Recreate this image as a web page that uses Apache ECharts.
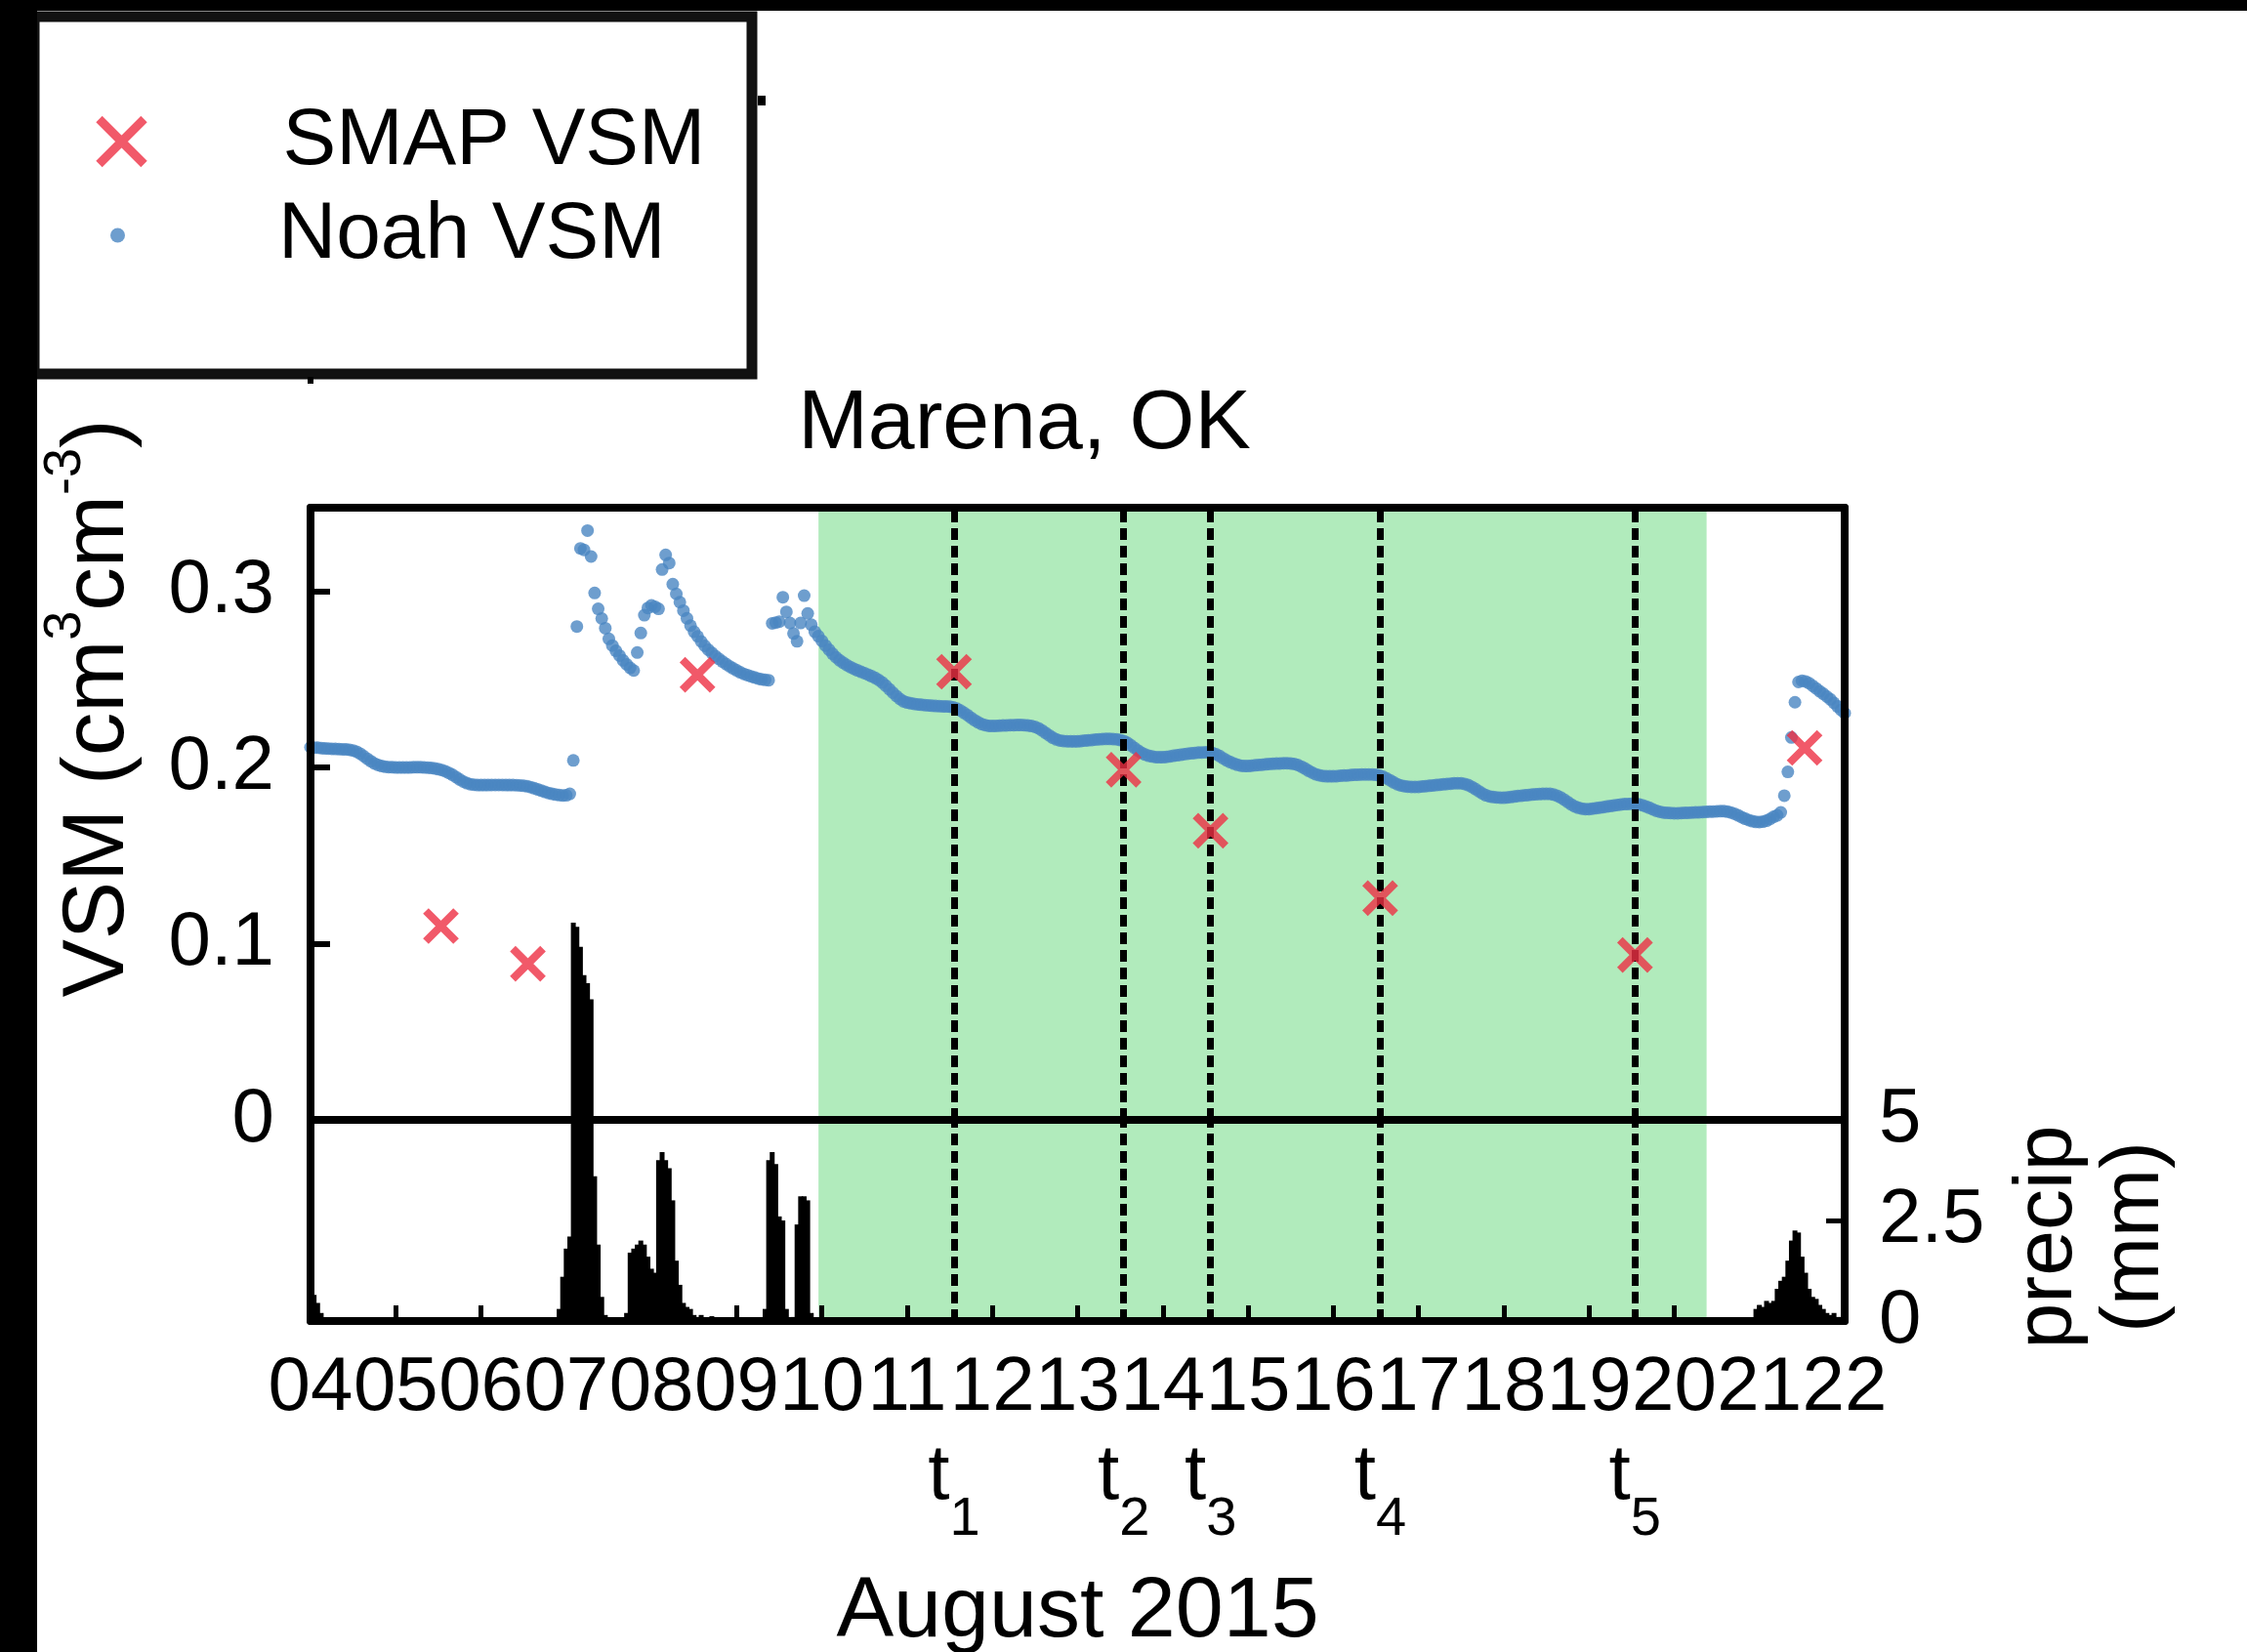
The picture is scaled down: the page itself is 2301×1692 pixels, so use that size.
<!DOCTYPE html>
<html>
<head>
<meta charset="utf-8">
<script src="https://cdn.jsdelivr.net/npm/echarts@6/dist/echarts.min.js"></script>
<style>
  html, body { margin: 0; padding: 0; background: #ffffff; }
  #chart { width: 2301px; height: 1692px; }
</style>
</head>
<body>
<div id="chart"></div>
<script>
// Marena, OK — SMAP vs Noah volumetric soil moisture, August 2015, with hourly precipitation.

// Noah VSM, hourly from Aug 04 00:00 to Aug 22 00:00 (cm3/cm3)
const noahStartDay = 4;
const noahVsm = [
  // Aug 04
  0.2115,0.2113,0.2112,0.2110,0.2108,0.2107,0.2106,0.2105,0.2104,0.2103,0.2102,0.2100,0.2096,0.2089,0.2078,0.2064,0.2049,0.2035,0.2023,0.2014,0.2008,0.2004,0.2002,0.2001,
  // Aug 05
  0.2000,0.2000,0.2000,0.2000,0.2000,0.2001,0.2001,0.2001,0.2000,0.1999,0.1997,0.1994,0.1990,0.1985,0.1978,0.1969,0.1958,0.1945,0.1932,0.1920,0.1911,0.1905,0.1902,0.1900,
  // Aug 06
  0.1900,0.1900,0.1900,0.1901,0.1901,0.1901,0.1901,0.1900,0.1900,0.1900,0.1899,0.1898,0.1896,0.1893,0.1888,0.1882,0.1875,0.1868,0.1861,0.1855,0.1850,0.1846,0.1843,0.1841,
  // Aug 07
  0.1842,0.1850,0.2040,0.2800,0.3243,0.3235,0.3344,0.3197,0.2990,0.2900,0.2845,0.2790,0.2730,0.2692,0.2662,0.2635,0.2608,0.2585,0.2565,0.2550,0.2652,0.2763,0.2864,0.2905,
  // Aug 08
  0.2920,0.2912,0.2900,0.3123,0.3206,0.3160,0.3040,0.2985,0.2938,0.2890,0.2846,0.2805,0.2770,0.2744,0.2715,0.2690,0.2668,0.2650,0.2632,0.2616,0.2601,0.2587,0.2574,0.2562,
  // Aug 09
  0.2551,0.2540,0.2531,0.2524,0.2517,0.2511,0.2505,0.2500,0.2497,0.2495,0.2818,0.2822,0.2827,0.2966,0.2883,0.2820,0.2760,0.2716,0.2820,0.2975,0.2874,0.2810,0.2770,0.2745,
  // Aug 10
  0.2718,0.2692,0.2668,0.2645,0.2625,0.2608,0.2594,0.2581,0.2570,0.2560,0.2551,0.2543,0.2535,0.2527,0.2518,0.2508,0.2496,0.2482,0.2464,0.2444,0.2424,0.2405,0.2388,0.2375,
  // Aug 11
  0.2368,0.2364,0.2361,0.2358,0.2356,0.2354,0.2352,0.2350,0.2349,0.2348,0.2347,0.2346,0.2345,0.2341,0.2334,0.2323,0.2310,0.2297,0.2282,0.2268,0.2256,0.2246,0.2240,0.2236,
  // Aug 12
  0.2235,0.2236,0.2237,0.2238,0.2239,0.2240,0.2240,0.2241,0.2241,0.2240,0.2238,0.2235,0.2230,0.2222,0.2210,0.2196,0.2182,0.2169,0.2159,0.2153,0.2150,0.2149,0.2148,0.2148,
  // Aug 13
  0.2148,0.2150,0.2152,0.2154,0.2156,0.2158,0.2160,0.2161,0.2162,0.2162,0.2161,0.2160,0.2156,0.2150,0.2140,0.2126,0.2111,0.2096,0.2083,0.2073,0.2066,0.2062,0.2059,0.2058,
  // Aug 14
  0.2058,0.2060,0.2063,0.2066,0.2069,0.2072,0.2075,0.2078,0.2080,0.2082,0.2084,0.2085,0.2086,0.2086,0.2082,0.2075,0.2065,0.2052,0.2040,0.2030,0.2022,0.2015,0.2010,0.2008,
  // Aug 15
  0.2008,0.2010,0.2012,0.2014,0.2016,0.2018,0.2020,0.2021,0.2022,0.2023,0.2024,0.2024,0.2023,0.2020,0.2014,0.2005,0.1994,0.1982,0.1971,0.1962,0.1956,0.1952,0.1950,0.1950,
  // Aug 16
  0.1950,0.1951,0.1953,0.1954,0.1955,0.1957,0.1958,0.1959,0.1960,0.1960,0.1960,0.1960,0.1958,0.1954,0.1947,0.1938,0.1927,0.1915,0.1905,0.1898,0.1894,0.1891,0.1890,0.1890,
  // Aug 17
  0.1890,0.1892,0.1894,0.1896,0.1898,0.1900,0.1902,0.1904,0.1906,0.1908,0.1910,0.1910,0.1910,0.1906,0.1900,0.1890,0.1878,0.1865,0.1852,0.1842,0.1836,0.1832,0.1830,0.1829,
  // Aug 18
  0.1828,0.1830,0.1832,0.1835,0.1838,0.1840,0.1842,0.1844,0.1846,0.1848,0.1849,0.1850,0.1850,0.1850,0.1846,0.1840,0.1830,0.1818,0.1804,0.1790,0.1779,0.1771,0.1766,0.1764,
  // Aug 19
  0.1764,0.1766,0.1769,0.1772,0.1775,0.1778,0.1781,0.1784,0.1787,0.1790,0.1792,0.1793,0.1794,0.1794,0.1791,0.1786,0.1779,0.1771,0.1762,0.1754,0.1748,0.1744,0.1742,0.1741,
  // Aug 20
  0.1740,0.1740,0.1741,0.1742,0.1743,0.1744,0.1745,0.1746,0.1747,0.1748,0.1749,0.1750,0.1751,0.1752,0.1752,0.1749,0.1744,0.1737,0.1728,0.1718,0.1709,0.1701,0.1695,0.1691,
  // Aug 21 and Aug 22 00:00
  0.1690,0.1692,0.1698,0.1708,0.1720,0.1728,0.1745,0.1840,0.1975,0.2170,0.2370,0.2485,0.2492,0.2488,0.2478,0.2463,0.2448,0.2432,0.2418,0.2402,0.2386,0.2366,0.2346,0.2326,
  0.2308
];

// SMAP retrievals: day of August (fractional) and VSM
const smapDay = [5.53, 6.55, 8.54, 11.55, 13.54, 14.56, 16.55, 19.54, 21.53];
const smapVsm = [0.110, 0.0886, 0.2526, 0.2543, 0.1987, 0.1641, 0.1258, 0.0936, 0.2111];

// Overpasses t1..t5 marked with dotted lines
const overpassDay = [11.55, 13.54, 14.56, 16.55, 19.54];
const overpassSub = ['1', '2', '3', '4', '5'];

// Dry-down period (shaded)
const dryDown = [9.96, 20.38];

// Hourly precipitation: hours since Aug 04 00:00, and amount (mm)
const precipHour = [
  0, 1, 2, 3,
  70, 71, 72, 73, 74, 75, 76, 77, 78, 79, 80, 81, 82, 83,
  89, 90, 91, 92, 93, 94, 95, 96, 97, 98, 99, 100, 101, 102, 103, 104, 105, 106, 107, 108, 109, 110, 111, 112, 113,
  128, 129, 130, 131, 132, 133, 134, 136, 137, 138, 139, 140, 141,
  407, 408, 409, 410, 411, 412, 413, 414, 415, 416, 417, 418, 419, 420, 421, 422, 423, 424, 425, 426, 427, 428, 429, 430, 431
];
const precipMm = [
  0.4, 0.65, 0.45, 0.2,
  0.3, 1.1, 1.8, 2.1, 9.9, 9.8, 9.3, 8.6, 8.4, 8.0, 3.6, 1.9, 0.6, 0.15,
  0.2, 1.7, 1.8, 1.9, 2.0, 1.9, 1.6, 1.3, 1.2, 4.0, 4.2, 4.0, 3.8, 3.0, 1.5, 0.9, 0.45, 0.35, 0.3, 0.15, 0.1, 0.15, 0.08, 0.05, 0.12,
  0.3, 4.0, 4.2, 3.9, 2.6, 2.5, 0.3, 0.1, 2.4, 3.1, 3.1, 3.0, 0.2,
  0.3, 0.4, 0.35, 0.5, 0.45, 0.5, 0.8, 1.0, 1.1, 1.5, 2.0, 2.25, 2.2, 1.6, 1.2, 0.8, 0.6, 0.55, 0.4, 0.3, 0.2, 0.15, 0.2, 0.1, 0.1
];

// Axis ranges and ticks
const dayMin = 4, dayMax = 22;
const vsmMax = 0.3474, vsmStep = 0.1;
const precipMax = 5, precipStep = 2.5;

const FONT = '"Liberation Sans", Arial, Helvetica, sans-serif';
const RED = '#ee2f43';
const BLUE = '#4a86c2';
const GREEN = '#b1ebbc';
const INK = '#000000';
const CROSS = 'path://M0,0L10,10M10,0L0,10';

const chart = echarts.init(document.getElementById('chart'), null, { renderer: 'canvas' });

const hoursToDay = h => dayMin + h / 24;
const noahData = noahVsm.map((v, i) => [noahStartDay + i / 24, v]);
const smapData = smapDay.map((d, i) => [d, smapVsm[i]]);
const precipData = precipHour.map((h, i) => [hoursToDay(h), precipMm[i]]);

const dottedLine = {
  silent: true,
  symbol: ['none', 'none'],
  animation: false,
  lineStyle: { color: INK, width: 7, type: [12, 6], opacity: 1 },
  emphasis: { disabled: true }
};

const frame = { show: true, onZero: false, lineStyle: { color: INK, width: 8 } };

const option = {
  animation: false,
  backgroundColor: '#ffffff',
  textStyle: { fontFamily: FONT, color: INK },
  title: {
    text: 'Marena, OK',
    left: 1049, top: 392, textAlign: 'center', padding: 0,
    textStyle: { fontFamily: FONT, fontSize: 86, fontWeight: 'normal', color: INK }
  },
  legend: [
    {
      data: [{ name: 'SMAP VSM', icon: CROSS,
               itemStyle: { color: 'rgba(0,0,0,0)', borderColor: RED, borderWidth: 9 } }],
      left: 97, top: 104, padding: 0, itemWidth: 46, itemHeight: 46,
      selectedMode: false, z: 6,
      textStyle: { fontFamily: FONT, fontSize: 82, color: INK, padding: [0, 0, 0, 137] }
    },
    {
      data: [{ name: 'Noah VSM', icon: 'circle', itemStyle: { color: BLUE } }],
      left: 113, top: 200, padding: 0, itemWidth: 15, itemHeight: 15,
      selectedMode: false, z: 6,
      textStyle: { fontFamily: FONT, fontSize: 82, color: INK, padding: [0, 0, 0, 152] }
    }
  ],
  grid: [
    { left: 318, right: 412, top: 520, height: 627, outerBoundsMode: 'none', containLabel: false },
    { left: 318, right: 412, top: 1147, height: 206, outerBoundsMode: 'none', containLabel: false }
  ],
  xAxis: [
    { // zero line of the VSM panel
      gridIndex: 0, type: 'value', min: dayMin, max: dayMax, interval: 1, position: 'bottom', z: 10,
      axisLine: frame, axisTick: { show: false }, axisLabel: { show: false }, splitLine: { show: false }
    },
    { // top frame
      gridIndex: 0, type: 'value', min: dayMin, max: dayMax, interval: 1, position: 'top', z: 10,
      axisLine: frame, axisTick: { show: false }, axisLabel: { show: false }, splitLine: { show: false }
    },
    { // date axis
      gridIndex: 1, type: 'value', min: dayMin, max: dayMax, interval: 1, position: 'bottom', z: 10,
      axisLine: frame,
      axisTick: { show: true, inside: true, length: 16, lineStyle: { color: INK, width: 5 } },
      axisLabel: {
        show: true, margin: 30, fontFamily: FONT, fontSize: 78, color: INK,
        showMinLabel: true, showMaxLabel: true,
        formatter: v => String(Math.round(v)).padStart(2, '0')
      },
      splitLine: { show: false },
      name: 'August 2015', nameLocation: 'middle', nameGap: 255,
      nameTextStyle: { fontFamily: FONT, fontSize: 88, color: INK }
    }
  ],
  yAxis: [
    {
      gridIndex: 0, type: 'value', min: 0, max: vsmMax, interval: vsmStep, position: 'left', z: 10,
      axisLine: frame,
      axisTick: { show: true, inside: true, length: 20, lineStyle: { color: INK, width: 6 } },
      axisLabel: { show: true, margin: 37, fontFamily: FONT, fontSize: 78, color: INK, showMaxLabel: false, showMinLabel: true },
      splitLine: { show: false },
      name: '{m|VSM (cm}{s|3}{m|cm}{s|-3}{m|)}',
      nameLocation: 'middle', nameRotate: 90, nameGap: 172,
      nameTextStyle: {
        padding: [0, 0, 0, 216],
        rich: {
          m: { fontFamily: FONT, fontSize: 89, color: INK, verticalAlign: 'bottom' },
          s: { fontFamily: FONT, fontSize: 54, color: INK, verticalAlign: 'bottom', padding: [0, 0, 52, 0] }
        }
      }
    },
    { // right frame of the VSM panel
      gridIndex: 0, type: 'value', min: 0, max: vsmMax, position: 'right', z: 10,
      axisLine: frame, axisTick: { show: false }, axisLabel: { show: false }, splitLine: { show: false }
    },
    {
      gridIndex: 1, type: 'value', min: 0, max: precipMax, interval: precipStep, position: 'right', z: 10,
      axisLine: frame,
      axisTick: { show: true, inside: true, length: 19, lineStyle: { color: INK, width: 5 } },
      axisLabel: { show: true, margin: 35, fontFamily: FONT, fontSize: 78, color: INK, showMinLabel: true, showMaxLabel: true },
      splitLine: { show: false },
      name: 'precip\n(mm)', nameLocation: 'middle', nameRotate: 90, nameGap: 164,
      nameTextStyle: { fontFamily: FONT, fontSize: 84, lineHeight: 89, color: INK, padding: [0, 34, 0, 0] }
    },
    { // left frame of the precipitation panel
      gridIndex: 1, type: 'value', min: 0, max: precipMax, position: 'left', z: 10,
      axisLine: frame, axisTick: { show: false }, axisLabel: { show: false }, splitLine: { show: false }
    }
  ],
  series: [
    {
      name: 'precip', type: 'bar', xAxisIndex: 2, yAxisIndex: 2,
      data: precipData, barWidth: 5, clip: false, z: 3, silent: true,
      itemStyle: { color: INK, borderWidth: 0 },
      markArea: {
        silent: true, itemStyle: { color: GREEN, opacity: 1 },
        data: [[{ xAxis: dryDown[0] }, { xAxis: dryDown[1] }]]
      },
      markLine: Object.assign({}, dottedLine, {
        data: overpassDay.map((d, i) => ({ xAxis: d, name: overpassSub[i] })),
        label: {
          show: true, position: 'start', distance: 120,
          formatter: p => '{t|t}{s|' + p.name + '}',
          rich: {
            t: { fontFamily: FONT, fontSize: 80, color: INK, verticalAlign: 'top' },
            s: { fontFamily: FONT, fontSize: 56, color: INK, verticalAlign: 'top', padding: [56, 0, 0, 0] }
          }
        }
      })
    },
    {
      name: 'Noah VSM', type: 'scatter', xAxisIndex: 0, yAxisIndex: 0,
      data: noahData, symbol: 'circle', symbolSize: 13, z: 4, silent: true,
      itemStyle: { color: BLUE },
      markArea: {
        silent: true, itemStyle: { color: GREEN, opacity: 1 },
        data: [[{ xAxis: dryDown[0] }, { xAxis: dryDown[1] }]]
      },
      markLine: Object.assign({}, dottedLine, {
        data: overpassDay.map(d => ({ xAxis: d })),
        label: { show: false }
      })
    },
    {
      name: 'SMAP VSM', type: 'scatter', xAxisIndex: 0, yAxisIndex: 0,
      data: smapData, symbol: CROSS, symbolSize: 31, z: 6, silent: true,
      itemStyle: { color: 'rgba(0,0,0,0)', borderColor: RED, borderWidth: 8 }
    }
  ],
  graphic: [
    { // legend frame
      type: 'rect', z: 3, silent: true,
      shape: { x: 35, y: 17, width: 735, height: 366 },
      style: { fill: '#ffffff', stroke: '#111111', lineWidth: 11 }
    },
    { type: 'rect', z: 20, silent: true, shape: { x: 776, y: 98, width: 8, height: 10 }, style: { fill: INK } },
    { type: 'rect', z: 20, silent: true, shape: { x: 315, y: 386, width: 6, height: 7 }, style: { fill: INK } },
    // dark page margins
    { type: 'rect', z: 20, silent: true, shape: { x: 0, y: 0, width: 38, height: 1692 }, style: { fill: INK } },
    { type: 'rect', z: 20, silent: true, shape: { x: 0, y: 0, width: 2301, height: 11 }, style: { fill: INK } }
  ]
};

chart.setOption(option);
</script>
</body>
</html>
